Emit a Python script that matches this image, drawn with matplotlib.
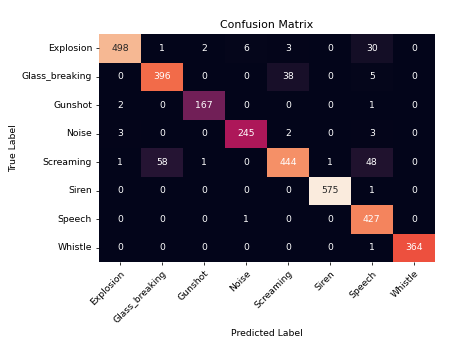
import numpy as np
import matplotlib
matplotlib.use("Agg")
import matplotlib.pyplot as plt
import seaborn as sns

# class names and confusion counts (rows: true, cols: predicted)
classes = ["Explosion", "Glass_breaking", "Gunshot", "Noise",
           "Screaming", "Siren", "Speech", "Whistle"]

cm = np.array([
    [498, 1, 2, 6, 3, 0, 30, 0],
    [0, 396, 0, 0, 38, 0, 5, 0],
    [2, 0, 167, 0, 0, 0, 1, 0],
    [3, 0, 0, 245, 2, 0, 3, 0],
    [1, 58, 1, 0, 444, 1, 48, 0],
    [0, 0, 0, 0, 0, 575, 1, 0],
    [0, 0, 0, 1, 0, 0, 427, 0],
    [0, 0, 0, 0, 0, 0, 1, 364],
])

plt.rcParams["font.size"] = 9.4

fig = plt.figure(figsize=(6.4, 4.871), dpi=70.625)
ax = fig.add_axes([0.219, 0.238, 0.743, 0.663])

sns.heatmap(cm, annot=True, fmt="d", cmap="rocket", cbar=False,
            xticklabels=classes, yticklabels=classes, ax=ax)

ax.set_title("Confusion Matrix")
ax.set_xlabel("Predicted Label")
ax.set_ylabel("True Label")
plt.setp(ax.get_xticklabels(), rotation=45, ha="right", rotation_mode="anchor")
plt.setp(ax.get_yticklabels(), rotation=0)

fig.savefig("out.png", dpi=70.625)
